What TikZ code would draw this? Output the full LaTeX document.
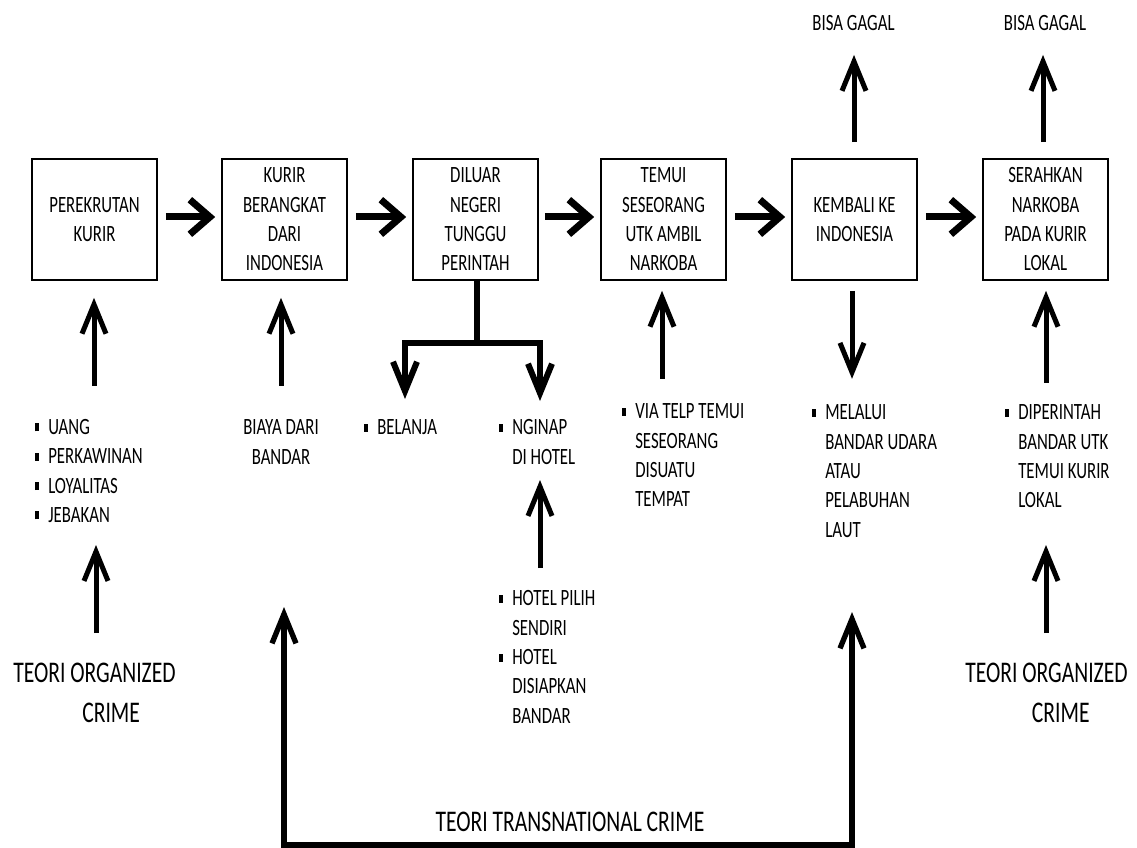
\documentclass[tikz,border=0pt]{standalone}
\usepackage{fontspec}
\setmainfont{Carlito}[FakeStretch=0.72]
\usetikzlibrary{arrows.meta,calc}
\newcommand\dgSmall{\fontsize{17.5pt}{22pt}\selectfont}
\newcommand\dgLarge{\fontsize{22.5pt}{30pt}\selectfont}
\newcommand\dgBul{\llap{\rule[2.25pt]{3pt}{6pt}\hspace{6.75pt}}}
\begin{document}
\begin{tikzpicture}[x=0.75pt,y=-0.75pt,
  box/.style={draw,line width=1.2pt,minimum width=93.75pt,minimum height=90.75pt,inner sep=0pt,align=center,font=\dgSmall},
  txt/.style={inner sep=0pt,font=\dgSmall,align=center},
  list/.style={inner sep=0pt,font=\dgSmall,align=left,anchor=north west},
  big/.style={inner sep=0pt,font=\dgLarge,align=left,anchor=north west},
  bigc/.style={inner sep=0pt,font=\dgLarge},
  harrow/.style={line width=5.25pt,-{Straight Barb[length=15pt,width=26pt]}},
  varrow/.style={line width=3.75pt,-{Straight Barb[length=22pt,width=18pt]}},
  branch/.style={line width=4.5pt},
  brarrow/.style={line width=4.5pt,{Straight Barb[length=22pt,width=18pt]}-{Straight Barb[length=22pt,width=18pt]}},
  tarrow/.style={line width=4pt,{Straight Barb[length=22pt,width=18pt]}-{Straight Barb[length=22pt,width=18pt]}}
]
\useasboundingbox (0,0) rectangle (1137,848);
\fill[white] (0,0) rectangle (1137,848);

% main boxes
\node[box] (b1) at (94.5,219.5) {PEREKRUTAN\\KURIR};
\node[box] (b2) at (284.5,219.5) {KURIR\\BERANGKAT\\DARI\\INDONESIA};
\node[box] (b3) at (475.5,219.5) {DILUAR\\NEGERI\\TUNGGU\\PERINTAH};
\node[box] (b4) at (663.5,219.5) {TEMUI\\SESEORANG\\UTK AMBIL\\NARKOBA};
\node[box] (b5) at (854.5,219.5) {KEMBALI KE\\INDONESIA};
\node[box] (b6) at (1045.5,219.5) {SERAHKAN\\NARKOBA\\PADA KURIR\\LOKAL};

% texts
\node[txt] (g1) at (853.5,23) {BISA GAGAL};
\node[txt] (g2) at (1045,23) {BISA GAGAL};
\node[list] (l1) at (48,419) {\dgBul UANG\\\dgBul PERKAWINAN\\\dgBul LOYALITAS\\\dgBul JEBAKAN};
\node[txt] (l2) at (281,442) {BIAYA DARI\\BANDAR};
\node[list] (l3) at (377,419.5) {\dgBul BELANJA};
\node[list] (l4) at (512,419.5) {\dgBul NGINAP\\DI HOTEL};
\node[list] (l5) at (635,403.5) {\dgBul VIA TELP TEMUI\\SESEORANG\\DISUATU\\TEMPAT};
\node[list] (l6) at (825,404.5) {\dgBul MELALUI\\BANDAR UDARA\\ATAU\\PELABUHAN\\LAUT};
\node[list] (l7) at (1018,404.5) {\dgBul DIPERINTAH\\BANDAR UTK\\TEMUI KURIR\\LOKAL};
\node[list] (l8) at (512,590.5) {\dgBul HOTEL PILIH\\SENDIRI\\\dgBul HOTEL\\DISIAPKAN\\BANDAR};
\node[big] (t1) at (13,663) {TEORI ORGANIZED\\\hspace*{51.75pt}CRIME};
\node[big] (t2) at (965,663) {TEORI ORGANIZED\\\hspace*{50pt}CRIME};
\node[bigc] (t3) at (570,822) {TEORI TRANSNATIONAL CRIME};

% horizontal flow arrows
\draw[harrow] ($(b1.east)+(8,-2.5)$) -- ($(b2.west)+(-6,-2.5)$);
\draw[harrow] ($(b2.east)+(8,-2.5)$) -- ($(b3.west)+(-6,-2.5)$);
\draw[harrow] ($(b3.east)+(6,-2.5)$) -- ($(b4.west)+(-6,-2.5)$);
\draw[harrow] ($(b4.east)+(8,-2.5)$) -- ($(b5.west)+(-6,-2.5)$);
\draw[harrow] ($(b5.east)+(8,-2.5)$) -- ($(b6.west)+(-6,-2.5)$);

% up to BISA GAGAL
\draw[varrow] ($(b5.north)+(-0.5,-16)$) -- ($(g1.south)+(0.5,24)$);
\draw[varrow] ($(b6.north)+(-2.5,-16)$) -- ($(g2.south)+(-2,24)$);

% into boxes from below
\draw[varrow] ($(b1.south)+(-0.5,105)$) -- ($(b1.south)+(-0.5,17)$);
\draw[varrow] ($(b2.south)+(-3.5,105)$) -- ($(b2.south)+(-3.5,17)$);
\draw[varrow] ($(b4.south)+(-1.5,98)$) -- ($(b4.south)+(-1.5,10)$);
\draw[varrow] ($(b6.south)+(0.5,102)$) -- ($(b6.south)+(0.5,10)$);
\draw[varrow] ($(b5.south)+(-2.5,10)$) -- ($(b5.south)+(-2.5,98)$);

% branch below box 3
\coordinate (sp) at ($(b3.south)+(1.5,62)$);
\coordinate (c1) at (405,399);
\coordinate (c2) at (540,401);
\draw[branch] (b3.south -| sp) -- (sp);
\draw[brarrow] (c1) -- (c1 |- sp) -- (c2 |- sp) -- (c2);

% theory arrows
\coordinate (o1s) at (96,633);
\coordinate (o1e) at (96,545);
\draw[varrow] (o1s) -- (o1e);
\coordinate (o2s) at (1046,633);
\coordinate (o2e) at (1046,545);
\draw[varrow] (o2s) -- (o2e);
\coordinate (h1s) at (540,568);
\coordinate (h1e) at (540,480);
\draw[varrow] (h1s) -- (h1e);

% transnational connector
\coordinate (tl) at (284,607);
\coordinate (tr) at (852,612);
\coordinate (bl) at (284,845);
\coordinate (br) at (852,845);
\draw[tarrow] (tl) -- (bl) -- (br) -- (tr);
\end{tikzpicture}
\end{document}
